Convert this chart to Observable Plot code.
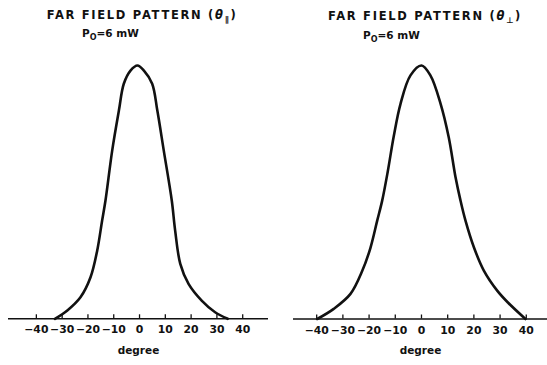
<!DOCTYPE html>
<html>
<head>
<meta charset="utf-8">
<script src="https://cdn.jsdelivr.net/npm/d3@7"></script>
<script src="https://cdn.jsdelivr.net/npm/@observablehq/plot@0.6"></script>
<style>
  html, body { margin: 0; padding: 0; background: #fff; }
  #wrap { position: relative; width: 547px; height: 365px; overflow: hidden; font-family: "DejaVu Sans", sans-serif; }
  .panel { position: absolute; top: 0; }
  .title { position: absolute; font-weight: bold; font-size: 11.5px; letter-spacing: 1.7px; color: #111; white-space: nowrap; transform: translateX(-50%); }
  .sub { position: absolute; font-weight: bold; font-size: 10.5px; color: #111; white-space: nowrap; }
  .sub sub, .title sub { font-size: 8px; }
</style>
</head>
<body>
<div id="wrap"></div>
<script>
// Left panel: FAR FIELD PATTERN (θ∥)
const leftDeg = [-32.8, -28.0, -22.9, -19.0, -16.4, -14.5, -13.2, -10.6, -8.0, -6.1, -3.5, -0.8, 1.7, 4.9, 6.9, 9.4, 12.5, 13.8, 15.8, 19.0, 24.1, 29.3, 34.2];
const leftVal = [0, 0.033, 0.085, 0.164, 0.270, 0.388, 0.467, 0.664, 0.822, 0.928, 0.98, 1.0, 0.98, 0.928, 0.822, 0.664, 0.467, 0.349, 0.217, 0.138, 0.072, 0.026, 0];
// Right panel: FAR FIELD PATTERN (θ⊥)
const rightDeg = [-39.8, -33.5, -27.1, -22.6, -19.5, -16.9, -15.0, -12.9, -10.6, -8.0, -4.2, 0, 3.4, 7.3, 10.4, 13.0, 14.9, 16.8, 20.0, 23.8, 28.9, 33.0, 39.7];
const rightVal = [0, 0.04, 0.099, 0.19, 0.28, 0.388, 0.467, 0.58, 0.72, 0.849, 0.961, 1.0, 0.961, 0.849, 0.717, 0.559, 0.467, 0.388, 0.283, 0.191, 0.112, 0.065, 0];
const tickValues = [-40, -30, -20, -10, 0, 10, 20, 30, 40];
const xLabel = "degree";

const wrap = document.getElementById("wrap");

function panel(deg, val, opts) {
  const data = deg.map((d, i) => ({deg: d, val: val[i]}));
  const p = Plot.plot({
    width: opts.width,
    height: 365,
    marginLeft: opts.ml,
    marginRight: opts.mr,
    marginTop: opts.mt,
    marginBottom: opts.mb,
    style: {fontFamily: "DejaVu Sans, sans-serif", fontSize: "10.8px", fontWeight: "bold", color: "#111", background: "#fff", overflow: "visible"},
    x: {domain: opts.domain},
    y: {domain: [0, 1], axis: null},
    marks: [
      Plot.ruleY([0], {stroke: "#111", strokeWidth: 1.6}),
      Plot.axisX({ticks: tickValues, tickSize: -4, tickPadding: 11, label: null, stroke: "#111", strokeWidth: 1.3}),
      Plot.line(data, {x: "deg", y: "val", curve: "catmull-rom", stroke: "#111", strokeWidth: 2.6}),
      Plot.text([xLabel], {frameAnchor: "bottom", dy: 35, fontSize: 10.5, fontWeight: "bold", fill: "#111", text: d => d})
    ]
  });
  p.classList.add("panel");
  p.style.left = opts.left + "px";
  wrap.appendChild(p);
}

panel(leftDeg, leftVal, {left: 0, width: 275, ml: 8, mr: 7, mt: 65, mb: 46.7, domain: [-50.8, 50]});
panel(rightDeg, rightVal, {left: 275, width: 272, ml: 18, mr: 0, mt: 65, mb: 46.5, domain: [-48.85, 48.1]});

function addText(cls, html, x, y) {
  const d = document.createElement("div");
  d.className = cls;
  d.innerHTML = html;
  d.style.left = x + "px";
  d.style.top = y + "px";
  wrap.appendChild(d);
}
addText("title", "FAR FIELD PATTERN (<i>θ</i><sub>∥</sub>)", 142, 8);
addText("sub", "P<sub>O</sub>=6 mW", 82, 27);
addText("title", "FAR FIELD PATTERN (<i>θ</i><sub>⊥</sub>)", 425, 9);
addText("sub", "P<sub>O</sub>=6 mW", 363, 29);
</script>
</body>
</html>
